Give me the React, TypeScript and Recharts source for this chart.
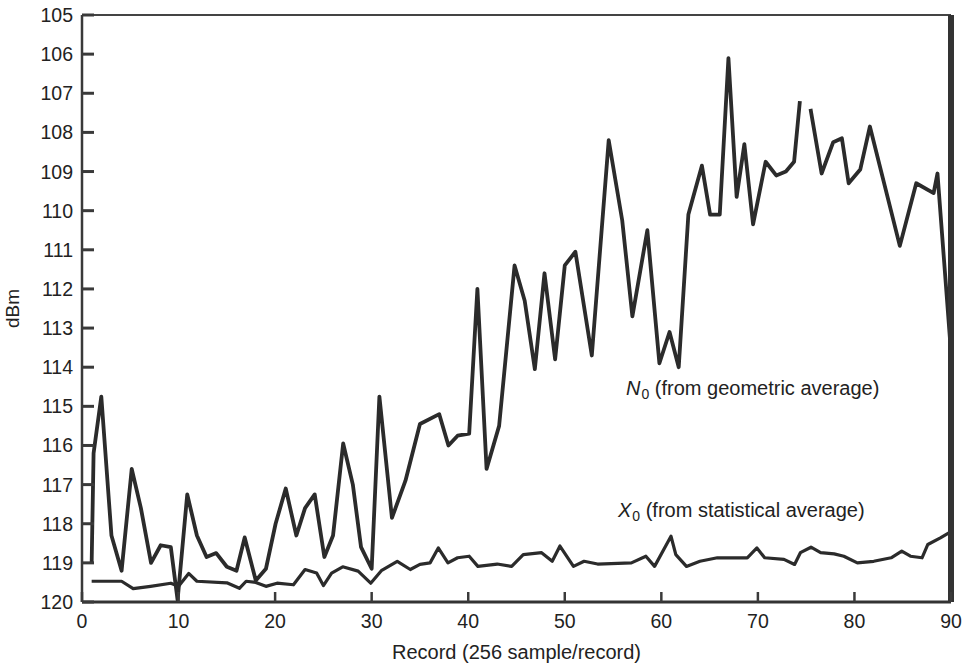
import React from 'react';
import { LineChart, Line, XAxis, YAxis, ReferenceLine } from 'recharts';

// N0 trace (geometric average), record number -> dBm level
const n0Records = [
  1.0, 1.2, 2.0, 3.05, 4.1, 5.15, 6.1, 7.15, 8.15, 9.2, 9.9, 10.9, 11.9, 12.9, 13.9, 15.0, 16.0, 16.85,
  18.0, 19.05, 20.05, 21.1, 22.2, 23.1, 24.1, 25.1, 26.0, 27.05, 28.05, 28.9, 30.0, 30.8, 32.1, 33.5,
  35.0, 37.0, 37.95, 38.9, 40.1, 40.95, 41.9, 43.2, 44.8, 45.85, 46.9, 47.9, 49.0, 50.0, 51.1, 52.8,
  54.55, 55.95, 57.0, 58.55, 59.8, 60.85, 61.8, 62.8, 63.3, 64.2, 65.05, 66.05, 66.95, 67.8, 68.6, 69.5,
  70.8, 71.9, 72.9, 73.75, 74.35, 74.9, 75.45, 76.6, 77.8, 78.7, 79.4, 80.6, 81.6, 84.7, 86.4, 88.2,
  88.6, 89.9,
];
const n0Values = [
  119.0, 116.2, 114.75, 118.3, 119.2, 116.6, 117.6, 119.0, 118.55, 118.6, 119.95, 117.25, 118.3, 118.85,
  118.75, 119.1, 119.2, 118.35, 119.45, 119.15, 118.0, 117.1, 118.3, 117.6, 117.25, 118.85, 118.3, 115.95,
  117.0, 118.6, 119.15, 114.75, 117.85, 116.9, 115.45, 115.2, 116.0, 115.75, 115.7, 112.0, 116.6, 115.5,
  111.4, 112.3, 114.05, 111.6, 113.8, 111.4, 111.05, 113.7, 108.2, 110.25, 112.7, 110.5, 113.9, 113.1,
  114.0, 110.1, 109.65, 108.85, 110.1, 110.1, 106.1, 109.65, 108.3, 110.35, 108.75, 109.1, 109.0, 108.75,
  107.2, null, 107.4, 109.05, 108.25, 108.15, 109.3, 108.95, 107.85, 110.9, 109.3, 109.55, 109.05, 113.3,
];

// X0 trace (statistical average)
const x0Records = [
  1.0, 4.1, 5.3, 7.1, 9.2, 10.0, 11.05, 11.9, 15.0, 16.3, 17.0, 18.0, 19.05, 20.2, 21.9, 23.1, 24.3, 25.0,
  25.85, 27.0, 28.6, 29.9, 31.0, 32.65, 34.0, 35.0, 36.05, 36.9, 37.9, 38.9, 40.1, 41.0, 43.0, 44.5, 45.7,
  47.6, 48.7, 49.5, 50.9, 52.0, 53.4, 56.9, 58.4, 59.3, 61.0, 61.5, 62.6, 64.0, 65.8, 68.9, 69.9, 70.7,
  72.7, 73.8, 74.4, 75.5, 76.5, 77.9, 78.9, 80.3, 82.0, 83.8, 84.9, 85.8, 87.0, 87.6, 88.9, 90.0,
];
const x0Values = [
  119.47, 119.47, 119.66, 119.6, 119.52, 119.6, 119.27, 119.47, 119.51, 119.65, 119.47, 119.5, 119.6,
  119.52, 119.56, 119.17, 119.26, 119.58, 119.26, 119.1, 119.21, 119.52, 119.2, 118.96, 119.17, 119.04,
  119.0, 118.62, 119.0, 118.87, 118.83, 119.09, 119.03, 119.09, 118.79, 118.74, 118.96, 118.57, 119.09,
  118.96, 119.03, 119.0, 118.83, 119.09, 118.32, 118.79, 119.09, 118.96, 118.87, 118.87, 118.62, 118.87,
  118.91, 119.04, 118.74, 118.6, 118.74, 118.77, 118.83, 119.0, 118.96, 118.87, 118.7, 118.83, 118.87,
  118.53, 118.36, 118.2,
];

const xTicks = [0, 10, 20, 30, 40, 50, 60, 70, 80, 90];
const yTicks = [105, 106, 107, 108, 109, 110, 111, 112, 113, 114, 115, 116, 117, 118, 119, 120];

const n0Data = n0Records.map((record, i) => ({ record, level: n0Values[i] }));
const x0Data = x0Records.map((record, i) => ({ record, level: x0Values[i] }));

const FONT = '"Liberation Sans", Arial, Helvetica, sans-serif';
const INK = '#2b2b2b';

// tick marks point into the plot (negative tickSize), labels drawn by these
const YTick = (props: any) => {
  const { x, y, payload } = props;
  return (
    <text x={x} y={y} dy="0.36em" textAnchor="end" fontSize={19.5} fontFamily={FONT} fill="#222">
      {payload.value}
    </text>
  );
};

const XTick = (props: any) => {
  const { x, y, payload } = props;
  return (
    <text x={x} y={y + 16} textAnchor="middle" fontSize={19.5} fontFamily={FONT} fill="#222">
      {payload.value}
    </text>
  );
};

const noteStyle: React.CSSProperties = {
  position: 'absolute',
  fontFamily: FONT,
  fontSize: 20,
  lineHeight: '20px',
  color: '#222',
  whiteSpace: 'nowrap',
};
const subStyle: React.CSSProperties = { fontSize: 14, position: 'relative', top: 4, marginLeft: 1 };

export default function App() {
  return (
    <div style={{ position: 'relative', width: 975, height: 666, background: '#fff' }}>
      <style>{'body{margin:0;background:#fff}'}</style>
      <LineChart width={975} height={666} margin={{ top: 15, right: 24, bottom: 0, left: 0 }}>
        <XAxis
          type="number"
          dataKey="record"
          domain={[0, 90]}
          ticks={xTicks}
          height={64}
          tickSize={-10}
          tickMargin={20}
          tick={<XTick />}
          tickLine={{ stroke: '#3a3a3a', strokeWidth: 2.5 }}
          axisLine={{ stroke: '#333', strokeWidth: 3 }}
          label={{ value: 'Record (256 sample/record)', position: 'insideBottom', offset: 7, fontSize: 20, fontFamily: FONT, fill: '#222' }}
        />
        <YAxis
          type="number"
          domain={[105, 120]}
          reversed
          ticks={yTicks}
          width={82}
          tickSize={-12}
          tickMargin={21}
          tick={<YTick />}
          tickLine={{ stroke: '#3a3a3a', strokeWidth: 3 }}
          axisLine={{ stroke: '#3a3a3a', strokeWidth: 2.5 }}
          label={{ value: 'dBm', angle: -90, position: 'center', dx: -29, fontSize: 19, fontFamily: FONT, fill: '#222' }}
        />
        <ReferenceLine y={105} stroke="#444" strokeWidth={2} />
        <Line
          data={x0Data}
          dataKey="level"
          type="linear"
          stroke={INK}
          strokeWidth={3.2}
          strokeLinejoin="round"
          dot={false}
          activeDot={false}
          isAnimationActive={false}
        />
        <Line
          data={n0Data}
          dataKey="level"
          type="linear"
          stroke={INK}
          strokeWidth={3.8}
          strokeLinejoin="round"
          dot={false}
          activeDot={false}
          connectNulls={false}
          isAnimationActive={false}
        />
        <ReferenceLine x={90} stroke="#333" strokeWidth={6} />
      </LineChart>
      <div style={{ ...noteStyle, left: 626, top: 378 }}>
        <i>N</i>
        <span style={subStyle}>0</span> (from geometric average)
      </div>
      <div style={{ ...noteStyle, left: 618, top: 500 }}>
        <i>X</i>
        <span style={subStyle}>0</span> (from statistical average)
      </div>
    </div>
  );
}
